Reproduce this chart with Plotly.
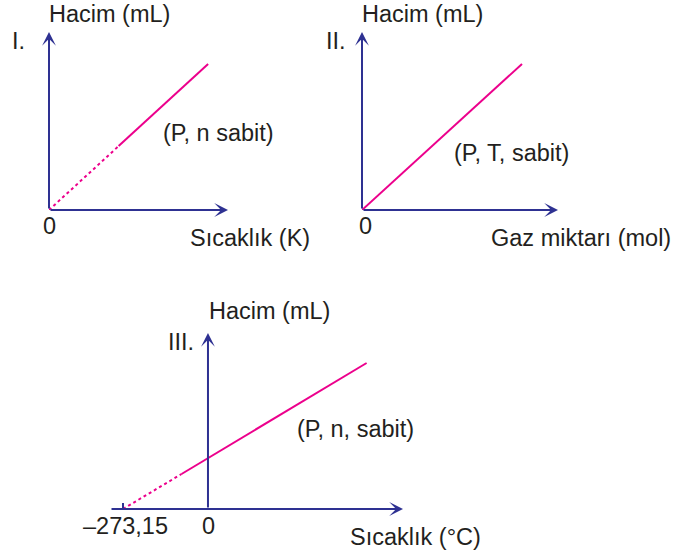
import plotly.graph_objects as go

# ─── Data ─────────────────────────────────────────────────────────────────────
# I. Hacim - Sıcaklık (K)
K_TEMP = [0, 175, 400]
K_VOL = [0, 7.0, 16.0]

# II. Hacim - Gaz miktarı (mol)
MOL = [0, 4]
MOL_VOL = [0, 16.0]

# III. Hacim - Sıcaklık (°C)
C_TEMP = [-273.15, -85, 510]
C_VOL = [0, 3.5, 14.6]

# ─── Style ────────────────────────────────────────────────────────────────────
W, H = 688, 556
AXIS = "#2E3192"
PINK = "#EC008C"
TXT = "#231F20"
FONT = "Liberation Sans, Arial, sans-serif"
FS = 23.5


def px(x):
    return x / W


def py(y):
    return 1 - y / H


fig = go.Figure()

# I.
fig.add_trace(go.Scatter(x=K_TEMP[:2], y=K_VOL[:2], mode="lines",
                         line=dict(color=PINK, width=2, dash="dot"), xaxis="x", yaxis="y"))
fig.add_trace(go.Scatter(x=K_TEMP[1:], y=K_VOL[1:], mode="lines",
                         line=dict(color=PINK, width=2), xaxis="x", yaxis="y"))
# II.
fig.add_trace(go.Scatter(x=MOL, y=MOL_VOL, mode="lines",
                         line=dict(color=PINK, width=2), xaxis="x2", yaxis="y2"))
# III.
fig.add_trace(go.Scatter(x=C_TEMP[:2], y=C_VOL[:2], mode="lines",
                         line=dict(color=PINK, width=2, dash="dot"), xaxis="x3", yaxis="y3"))
fig.add_trace(go.Scatter(x=C_TEMP[1:], y=C_VOL[1:], mode="lines",
                         line=dict(color=PINK, width=2), xaxis="x3", yaxis="y3"))

hidden = dict(showgrid=False, zeroline=False, showline=False, showticklabels=False, ticks="")

panels = [
    # (axis suffix, x domain px, y domain px (top, bottom), x range, y range)
    ("", (49, 228), (32, 210), [0, 450], [0, 19.5]),
    ("2", (362, 558), (32, 210), [0, 4.9], [0, 19.5]),
    ("3", (110, 403), (333, 509), [-315, 627], [0, 17.6]),
]

layout_axes = {}
annotations = []
for suf, (x0, x1), (yt, yb), xr, yr in panels:
    layout_axes["xaxis" + suf] = dict(domain=[px(x0), px(x1)], range=xr, anchor="y" + suf, **hidden)
    layout_axes["yaxis" + suf] = dict(domain=[py(yb), py(yt)], range=yr, anchor="x" + suf, **hidden)
    # axis arrows
    for tip, tail in (((xr[1], 0), (xr[0], 0)), ((0, yr[1]), (0, 0))):
        annotations.append(dict(
            x=tip[0], y=tip[1], ax=tail[0], ay=tail[1],
            xref="x" + suf, yref="y" + suf, axref="x" + suf, ayref="y" + suf,
            text="", showarrow=True, arrowhead=3, arrowsize=1.15, arrowwidth=2,
            arrowcolor=AXIS, standoff=0, startstandoff=0,
        ))

# tick at -273,15
layout_axes["xaxis3"].update(ticks="inside", tickvals=[C_TEMP[0]], ticklen=6,
                             tickwidth=2, tickcolor=AXIS)


def label(text, x, y, anchor="left"):
    annotations.append(dict(
        text=text, x=px(x), y=py(y), xref="paper", yref="paper",
        xanchor=anchor, yanchor="middle", showarrow=False,
        font=dict(family=FONT, size=FS, color=TXT),
    ))


# I.
label("Hacim (mL)", 47, 14)
label("I.", 10, 41)
label("0", 49, 226, "center")
label("Sıcaklık (K)", 188, 238)
label("(P, n sabit)", 161, 133)
# II.
label("Hacim (mL)", 360, 14)
label("II.", 324, 41)
label("0", 365, 226, "center")
label("Gaz miktarı (mol)", 489, 238)
label("(P, T, sabit)", 452, 153)
# III.
label("Hacim (mL)", 207, 311)
label("III.", 166, 342)
label("–273,15", 125, 526, "center")
label("0", 208, 526, "center")
label("Sıcaklık (°C)", 348, 537)
label("(P, n, sabit)", 295, 429)

fig.update_layout(
    width=W, height=H,
    margin=dict(l=0, r=0, t=0, b=0),
    paper_bgcolor="white", plot_bgcolor="rgba(0,0,0,0)",
    showlegend=False,
    annotations=annotations,
    **layout_axes,
)

# page body has an 8px default margin; drop it so the figure fills the window
fig.write_html("out.html", config={"displayModeBar": False},
               post_script="document.body.style.margin = '0';")
